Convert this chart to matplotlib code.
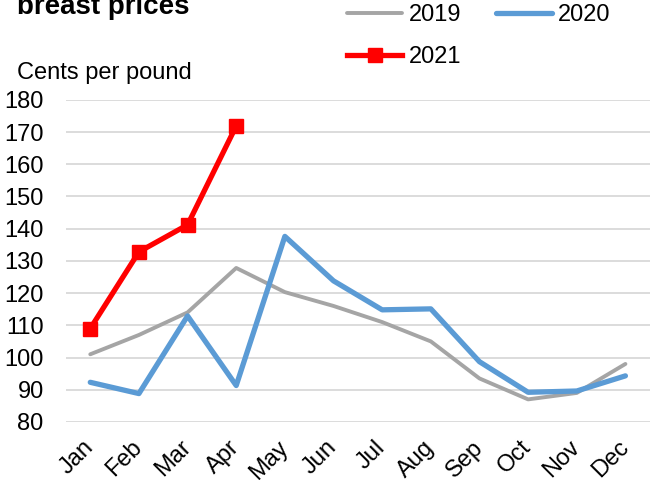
import matplotlib
matplotlib.use('Agg')
import matplotlib.pyplot as plt

months = ['Jan', 'Feb', 'Mar', 'Apr', 'May', 'Jun', 'Jul', 'Aug', 'Sep', 'Oct', 'Nov', 'Dec']
y2019 = [101, 107, 114, 127.8, 120.3, 116, 111, 105, 93.5, 87, 89, 98]
y2020 = [92.3, 88.8, 112.9, 91.3, 137.6, 123.8, 114.8, 115.1, 98.7, 89.2, 89.6, 94.3]
y2021 = [109, 132.8, 141.2, 171.9]

plt.rcParams['font.family'] = ['Liberation Sans', 'DejaVu Sans']

fig = plt.figure(figsize=(6.53, 4.8), dpi=100)
ax = fig.add_axes([0.101, 0.121, 0.894, 0.671])

x = list(range(len(months)))
l19, = ax.plot(x, y2019, color='#a5a5a5', linewidth=2.8, label='2019', solid_capstyle='round')
l20, = ax.plot(x, y2020, color='#5b9bd5', linewidth=3.8, label='2020', solid_capstyle='round')
l21, = ax.plot(x[:len(y2021)], y2021, color='#ff0000', linewidth=3.8, marker='s', markersize=10, label='2021')

ax.set_xlim(-0.5, len(months) - 0.5)
ax.set_ylim(80, 180)
ax.set_yticks(range(80, 181, 10))
ax.set_xticks(x)
ax.set_xticklabels(months, rotation=45, ha='right', va='center', rotation_mode='anchor', fontsize=17)
ax.tick_params(axis='y', labelsize=17, length=0, pad=16)
ax.tick_params(axis='x', length=0, pad=16)
ax.grid(axis='y', color='#d9d9d9', linewidth=1.3)
ax.set_axisbelow(True)
for s in ax.spines.values():
    s.set_visible(False)

fig.text(0.026, 1 - 14 / 480, 'breast prices', fontsize=20, fontweight='bold', va='baseline')
fig.text(0.026, 1 - 79 / 480, 'Cents per pound', fontsize=17, va='baseline')

fig.legend([l19, l21, l20], ['2019', '2021', '2020'], loc='upper left',
           bbox_to_anchor=(347 / 653, 1 - 4 / 480), ncol=2, frameon=False,
           fontsize=17, handlelength=2.35, columnspacing=1.5, handletextpad=0.25,
           labelspacing=0.86, borderpad=0, borderaxespad=0)

fig.savefig('out.png', dpi=100)
